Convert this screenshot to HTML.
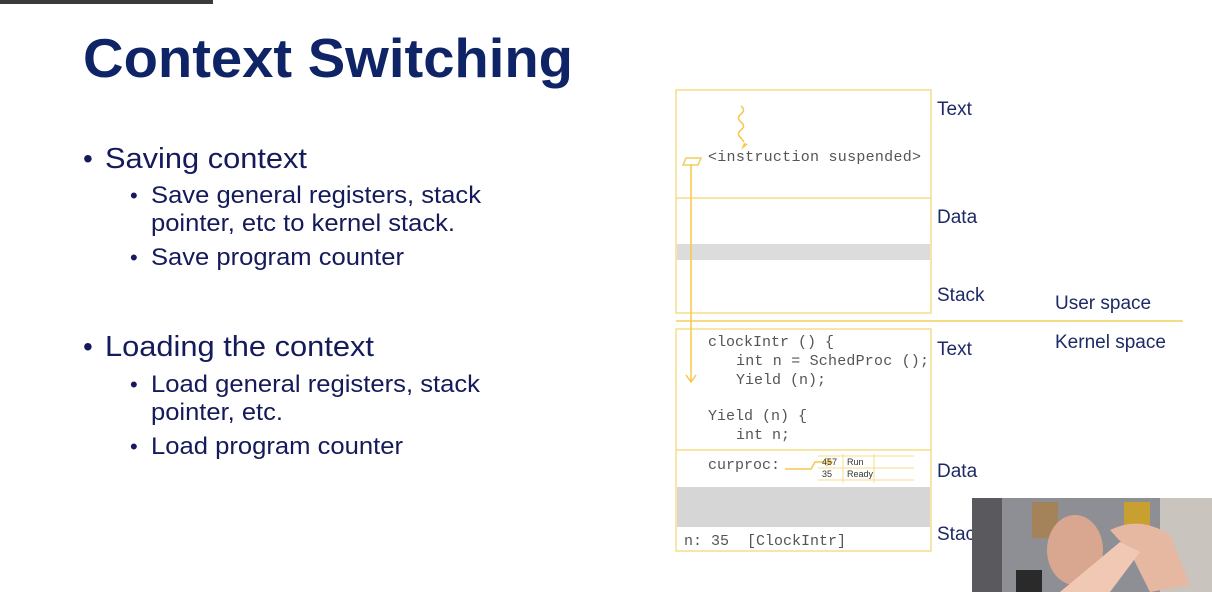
<!DOCTYPE html>
<html><head><meta charset="utf-8"><style>
html,body{margin:0;padding:0;background:#fff;width:1212px;height:592px;overflow:hidden}
svg{display:block}
</style></head><body>
<svg width="1212" height="592" xmlns="http://www.w3.org/2000/svg">
<rect x="0" y="0" width="213" height="4" fill="#3a3a3a"/>
<text x="83" y="77" font-family="Liberation Sans, sans-serif" font-weight="bold" font-size="55" fill="#0f2466" textLength="490" lengthAdjust="spacingAndGlyphs">Context Switching</text>
<g font-family="Liberation Sans, sans-serif" fill="#141a5a">
<text x="83" y="168" font-size="28">•</text><text x="105" y="168" font-size="29" textLength="202" lengthAdjust="spacingAndGlyphs">Saving context</text>
<text x="130" y="203" font-size="22">•</text><text x="151" y="203" font-size="24" textLength="330" lengthAdjust="spacingAndGlyphs">Save general registers, stack</text>
<text x="151" y="231" font-size="24" textLength="304" lengthAdjust="spacingAndGlyphs">pointer, etc to kernel stack.</text>
<text x="130" y="265" font-size="22">•</text><text x="151" y="265" font-size="24" textLength="253" lengthAdjust="spacingAndGlyphs">Save program counter</text>
<text x="83" y="356" font-size="28">•</text><text x="105" y="356" font-size="29" textLength="269" lengthAdjust="spacingAndGlyphs">Loading the context</text>
<text x="130" y="392" font-size="22">•</text><text x="151" y="392" font-size="24" textLength="329" lengthAdjust="spacingAndGlyphs">Load general registers, stack</text>
<text x="151" y="420" font-size="24" textLength="132" lengthAdjust="spacingAndGlyphs">pointer, etc.</text>
<text x="130" y="454" font-size="22">•</text><text x="151" y="454" font-size="24" textLength="252" lengthAdjust="spacingAndGlyphs">Load program counter</text>
</g>
<g fill="none" stroke="#f5dd8a" stroke-width="1.5">
<rect x="676" y="90" width="255" height="223"/>
<line x1="676" y1="198" x2="931" y2="198"/>
<rect x="676" y="329" width="255" height="222"/>
<line x1="676" y1="450" x2="931" y2="450"/>
<line x1="676" y1="321" x2="1183" y2="321" stroke="#f2cf5a"/>
</g>
<rect x="677" y="244" width="253" height="16" fill="#dcdcdc"/>
<rect x="677" y="487" width="253" height="40" fill="#d6d6d6"/>
<g stroke="#f5c84c" fill="none" stroke-width="1.5">
<path d="M741 106 q5 4 0 8 q-5 4 0 8 q5 4 0 8 q-5 4 0 8 l3 4"/>
<polygon points="686,158 701,158 698,165 683,165" stroke="#f2cf5a"/>
<line x1="691" y1="165" x2="691" y2="381"/>
<path d="M686 375 l5 7 l5 -7"/>
<path d="M785 469 h26 l4 -7 h16"/>
<path d="M826 458 l6 4 l-6 4"/>
<g stroke="#f5dd8a" stroke-width="1"><line x1="818" y1="456" x2="914" y2="456"/><line x1="818" y1="468" x2="914" y2="468"/><line x1="818" y1="480" x2="914" y2="480"/><line x1="843" y1="454" x2="843" y2="483"/><line x1="874" y1="454" x2="874" y2="483"/></g>
</g>
<polygon points="741,150 748,144 744,143" fill="#f5c84c"/>
<g font-family="Liberation Mono, monospace" font-size="15" fill="#555" xml:space="preserve">
<text x="708" y="161" textLength="213">&lt;instruction suspended&gt;</text>
<text x="708" y="346">clockIntr () {</text>
<text x="736" y="365" textLength="193">int n = SchedProc ();</text>
<text x="736" y="384">Yield (n);</text>
<text x="708" y="420">Yield (n) {</text>
<text x="736" y="439">int n;</text>
<text x="708" y="469">curproc:</text>
<text x="684" y="545" xml:space="preserve">n: 35  [ClockIntr]</text>
</g>
<g font-family="Liberation Sans, sans-serif" font-size="9" fill="#333">
<text x="822" y="465">457</text><text x="847" y="465">Run</text>
<text x="822" y="477">35</text><text x="847" y="477">Ready</text>
</g>
<g font-family="Liberation Sans, sans-serif" font-size="19" fill="#1d2a66">
<text x="937" y="115">Text</text>
<text x="937" y="223">Data</text>
<text x="937" y="301">Stack</text>
<text x="1055" y="309">User space</text>
<text x="1055" y="348">Kernel space</text>
<text x="937" y="355">Text</text>
<text x="937" y="477">Data</text>
<text x="937" y="540">Stack</text>
</g>
<rect x="972" y="498" width="240" height="94" fill="#8e8f94"/>
<rect x="972" y="498" width="30" height="94" fill="#5a5a5e"/>
<rect x="1032" y="502" width="26" height="36" fill="#a4835a"/>
<rect x="1124" y="502" width="26" height="38" fill="#c8a030"/>
<rect x="1160" y="498" width="52" height="94" fill="#c9c4bd"/>
<rect x="1016" y="570" width="26" height="22" fill="#2a2a2a"/>
<ellipse cx="1075" cy="550" rx="28" ry="35" fill="#d9a690"/>
<path d="M1110 530 q30 -15 60 5 l20 50 l-40 7 l-20 -40 z" fill="#e6b8a2"/>
<path d="M1060 592 l60 -50 l20 10 l-30 40 z" fill="#f0c8b4"/>
</svg>
</body></html>
